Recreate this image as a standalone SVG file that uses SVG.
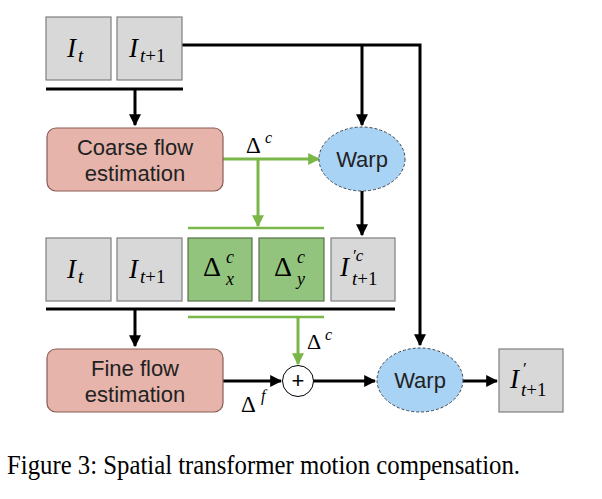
<svg xmlns="http://www.w3.org/2000/svg" width="602" height="499" viewBox="0 0 602 499">
<defs>
<marker id="ah" viewBox="0 0 10 10" refX="9" refY="5" markerWidth="4" markerHeight="4" orient="auto" markerUnits="strokeWidth"><path d="M0,0 L10,5 L0,10 z" fill="#000"/></marker>
<marker id="ag" viewBox="0 0 10 10" refX="9" refY="5" markerWidth="4" markerHeight="4" orient="auto" markerUnits="strokeWidth"><path d="M0,0 L10,5 L0,10 z" fill="#7ab648"/></marker>
<style>
.gray{fill:#d8d8d8;stroke:#7f7f7f;stroke-width:1.2}
.green{fill:#93c47d;stroke:#55704a;stroke-width:1.2}
.pink{fill:#e6b4ab;stroke:#8a5c55;stroke-width:1.2}
.warp{fill:#a9d3f5;stroke:#3c4752;stroke-width:1;stroke-dasharray:3,2}
.blk{stroke:#000;stroke-width:3;fill:none}
.grn{stroke:#7ab648;stroke-width:3;fill:none}
.sans{font-family:"Liberation Sans",Arial,sans-serif;font-size:22px;fill:#222;text-anchor:middle}
.m{font-family:"Liberation Serif","Times New Roman",serif;fill:#000}
.mi{font-family:"Liberation Serif","Times New Roman",serif;font-style:italic;fill:#000}
</style>
</defs>
<g id="connectors">
<line class="blk" x1="46" y1="89" x2="183" y2="89"/>
<line class="blk" x1="135" y1="89" x2="135" y2="125" marker-end="url(#ah)"/>
<polyline class="blk" points="182,45 420,45 420,345" marker-end="url(#ah)"/>
<line class="blk" x1="362" y1="45" x2="362" y2="125" marker-end="url(#ah)"/>
<line class="blk" x1="362" y1="191" x2="362" y2="235" marker-end="url(#ah)"/>
<line class="grn" x1="223" y1="159" x2="319" y2="159" marker-end="url(#ag)"/>
<line class="grn" x1="258" y1="159" x2="258" y2="226" marker-end="url(#ag)"/>
<line class="grn" x1="188" y1="228" x2="324" y2="228" style="stroke-width:2.5"/>
<line class="blk" x1="46" y1="309" x2="395" y2="309"/>
<line class="grn" x1="188" y1="317" x2="324" y2="317" style="stroke-width:2.5"/>
<line class="blk" x1="135" y1="309" x2="135" y2="346" marker-end="url(#ah)"/>
<line class="grn" x1="298" y1="317" x2="298" y2="364" marker-end="url(#ag)"/>
<line class="blk" x1="223" y1="381" x2="281" y2="381" marker-end="url(#ah)"/>
<line class="blk" x1="313" y1="381" x2="375" y2="381" marker-end="url(#ah)"/>
<line class="blk" x1="463" y1="381" x2="497" y2="381" marker-end="url(#ah)"/>
<text class="m" x="246" y="153" font-size="23">Δ</text><text class="mi" x="265" y="143" font-size="16">c</text>
<text class="m" x="307" y="349" font-size="22">Δ</text><text class="mi" x="325" y="340" font-size="16">c</text>
<text class="m" x="241" y="412" font-size="23">Δ</text><text class="mi" x="261" y="401" font-size="16">f</text>
</g>
<g id="It1"><rect class="gray" x="46" y="17" width="65" height="63"/><text class="mi" x="67" y="57" font-size="27">I</text><text class="mi" x="78" y="62" font-size="19">t</text></g>
<g id="It1p1"><rect class="gray" x="117" y="17" width="65" height="63"/><text class="mi" x="129" y="57" font-size="27">I</text><text class="m" x="140" y="62" font-size="19"><tspan font-style="italic">t</tspan>+1</text></g>
<g id="coarse"><rect class="pink" x="47" y="128" width="176" height="63" rx="9"/><text class="sans" x="135" y="155">Coarse flow</text><text class="sans" x="135" y="181">estimation</text></g>
<g id="warp1"><ellipse class="warp" cx="362" cy="159" rx="43" ry="32"/><text class="sans" x="362" y="167">Warp</text></g>
<g id="It2"><rect class="gray" x="46" y="238" width="65" height="63"/><text class="mi" x="67" y="278" font-size="27">I</text><text class="mi" x="78" y="283" font-size="19">t</text></g>
<g id="It2p1"><rect class="gray" x="117" y="238" width="65" height="63"/><text class="mi" x="129" y="278" font-size="27">I</text><text class="m" x="140" y="283" font-size="19"><tspan font-style="italic">t</tspan>+1</text></g>
<g id="dx"><rect class="green" x="188" y="238" width="64" height="63"/><text class="m" x="203" y="276" font-size="28">Δ</text><text class="mi" x="226" y="263" font-size="18">c</text><text class="mi" x="226" y="285" font-size="18">x</text></g>
<g id="dy"><rect class="green" x="259" y="238" width="65" height="63"/><text class="m" x="274" y="276" font-size="28">Δ</text><text class="mi" x="297" y="263" font-size="18">c</text><text class="mi" x="297" y="285" font-size="18">y</text></g>
<g id="Iwc"><rect class="gray" x="331" y="238" width="64" height="63"/><text class="mi" x="340" y="276" font-size="27">I</text><text class="mi" x="352" y="261" font-size="17">′c</text><text class="m" x="352" y="285" font-size="19"><tspan font-style="italic">t</tspan>+1</text></g>
<g id="fine"><rect class="pink" x="47" y="349" width="176" height="63" rx="9"/><text class="sans" x="135" y="376">Fine flow</text><text class="sans" x="135" y="402">estimation</text></g>
<g id="plus"><circle cx="298" cy="381" r="15.5" fill="#fff" stroke="#000" stroke-width="1"/><text class="sans" x="298" y="388" font-size="18" style="fill:#000">+</text></g>
<g id="warp2"><ellipse class="warp" cx="420" cy="380" rx="43" ry="32"/><text class="sans" x="420" y="388">Warp</text></g>
<g id="Iout"><rect class="gray" x="499" y="349" width="64" height="63"/><text class="mi" x="510" y="388" font-size="27">I</text><text class="mi" x="522" y="374" font-size="17">′</text><text class="m" x="521" y="396" font-size="19"><tspan font-style="italic">t</tspan>+1</text></g>
<text x="7" y="474" font-family="'Liberation Serif','Times New Roman',serif" font-size="27" fill="#000" textLength="513" lengthAdjust="spacingAndGlyphs">Figure 3: Spatial transformer motion compensation.</text>
</svg>
